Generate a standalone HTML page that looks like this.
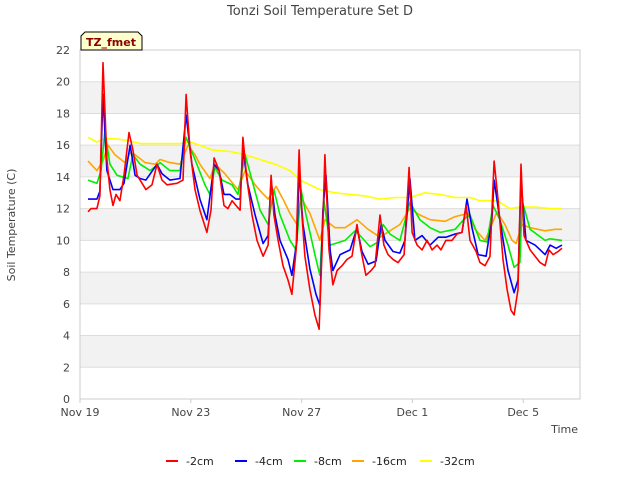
<!DOCTYPE html>
<html><head><meta charset="utf-8"><style>
body{margin:0;background:#fff;}
svg text{font-family:"DejaVu Sans","Liberation Sans",sans-serif;}
</style></head><body>
<svg id="chart" width="640" height="480" viewBox="0 0 640 480" xmlns="http://www.w3.org/2000/svg">
<text x="320" y="15" text-anchor="middle" font-size="13" fill="#444">Tonzi Soil Temperature Set D</text>
<g id="bands"></g><g id="grid"></g>
<rect x="80" y="50" width="500" height="349" fill="none" stroke="#ccc"/>
<g id="ticks"></g><g id="series"></g>
<text x="15" y="225" font-size="11" fill="#444" text-anchor="middle" transform="rotate(-90 15 225)">Soil Temperature (C)</text>
<text x="578" y="433" font-size="11" fill="#444" text-anchor="end">Time</text>
<g>
<path d="M81,50 L81,36 L85,32 L138,32 L142,36 L142,50 Z" fill="#ffffcc" stroke="#000"/>
<text x="111" y="46" font-size="11" font-weight="bold" fill="#8b0000" text-anchor="middle">TZ_fmet</text></g>
<g id="legend"></g>
</svg>
<script>
const yTicks=[0,2,4,6,8,10,12,14,16,18,20,22];
const xTickDays=[0,4,8,12,16];
const xTickLabels=["Nov 19","Nov 23","Nov 27","Dec 1","Dec 5"];
const seriesNames=["-2cm","-4cm","-8cm","-16cm","-32cm"];
const seriesColors=["#ff0000","#0000ff","#00ee00","#ffa500","#ffff00"];
const s2=[[0.29,11.8],[0.40,12.0],[0.61,12.0],[0.72,12.8],[0.83,21.2],[0.90,18.2],[0.97,15.1],[1.08,13.2],[1.19,12.2],[1.30,12.9],[1.44,12.5],[1.59,14.1],[1.77,16.8],[1.91,15.7],[2.06,14.1],[2.17,13.8],[2.38,13.2],[2.60,13.5],[2.78,14.8],[2.96,13.8],[3.14,13.5],[3.50,13.6],[3.72,13.8],[3.83,19.2],[3.97,15.7],[4.15,13.2],[4.33,11.9],[4.58,10.5],[4.73,11.9],[4.84,15.2],[5.02,14.4],[5.20,12.2],[5.34,12.0],[5.49,12.5],[5.63,12.2],[5.78,11.9],[5.88,16.5],[6.03,13.8],[6.21,11.6],[6.39,10.0],[6.61,9.0],[6.79,9.7],[6.90,14.1],[7.00,11.6],[7.15,10.0],[7.33,8.4],[7.51,7.5],[7.65,6.6],[7.80,9.4],[7.91,15.7],[8.01,11.6],[8.12,9.0],[8.30,6.9],[8.48,5.3],[8.63,4.4],[8.74,9.4],[8.84,15.4],[8.99,9.4],[9.13,7.2],[9.28,8.1],[9.46,8.4],[9.64,8.8],[9.82,9.0],[10.0,11.0],[10.14,9.4],[10.32,7.8],[10.51,8.1],[10.65,8.4],[10.83,11.6],[10.97,9.7],[11.12,9.1],[11.30,8.8],[11.48,8.6],[11.70,9.1],[11.88,14.6],[11.99,10.5],[12.17,9.7],[12.35,9.4],[12.53,10.0],[12.71,9.4],[12.89,9.7],[13.03,9.4],[13.21,10.0],[13.43,10.0],[13.61,10.4],[13.79,10.5],[13.94,12.2],[14.08,10.0],[14.30,9.3],[14.44,8.6],[14.62,8.4],[14.80,9.0],[14.95,15.0],[15.09,12.6],[15.27,8.8],[15.42,6.9],[15.56,5.6],[15.67,5.3],[15.81,6.9],[15.92,14.8],[16.03,10.3],[16.25,9.4],[16.43,9.0],[16.61,8.6],[16.79,8.4],[16.93,9.4],[17.08,9.1],[17.26,9.3],[17.40,9.5]];
const s4=[[0.29,12.6],[0.61,12.6],[0.72,13.1],[0.83,19.2],[0.97,14.4],[1.19,13.2],[1.44,13.2],[1.59,13.6],[1.81,16.0],[1.99,14.1],[2.17,13.9],[2.38,13.8],[2.78,14.8],[2.96,14.2],[3.25,13.8],[3.61,13.9],[3.83,17.9],[4.04,14.8],[4.33,12.6],[4.58,11.3],[4.84,14.8],[5.02,14.4],[5.20,12.9],[5.41,12.9],[5.63,12.6],[5.78,12.6],[5.88,15.7],[6.06,13.5],[6.32,11.6],[6.61,9.8],[6.79,10.3],[6.90,13.8],[7.04,11.6],[7.22,10.0],[7.51,8.8],[7.65,7.8],[7.83,10.0],[7.91,14.4],[8.05,11.0],[8.30,8.2],[8.52,6.6],[8.66,5.9],[8.77,11.9],[8.88,14.1],[9.03,9.4],[9.13,8.1],[9.39,9.1],[9.75,9.4],[10.0,10.8],[10.18,9.3],[10.40,8.5],[10.69,8.7],[10.87,11.0],[11.01,10.0],[11.30,9.3],[11.55,9.2],[11.73,10.0],[11.91,13.9],[12.09,10.0],[12.35,10.3],[12.64,9.7],[12.93,10.2],[13.21,10.2],[13.54,10.4],[13.79,10.5],[13.97,12.6],[14.15,10.8],[14.37,9.1],[14.66,9.0],[14.87,11.3],[14.95,13.8],[15.16,11.3],[15.45,8.1],[15.67,6.7],[15.81,7.5],[15.92,13.7],[16.10,10.0],[16.43,9.7],[16.79,9.1],[16.97,9.7],[17.19,9.5],[17.40,9.7]];
const s8=[[0.29,13.8],[0.61,13.6],[0.76,14.4],[0.90,16.9],[1.08,14.8],[1.34,14.1],[1.73,13.9],[1.91,15.4],[2.17,14.8],[2.53,14.4],[2.89,14.9],[3.25,14.4],[3.61,14.4],[3.83,16.5],[4.15,15.1],[4.51,13.5],[4.69,12.9],[4.87,14.6],[5.13,13.8],[5.49,13.5],[5.70,12.9],[5.96,15.4],[6.21,13.8],[6.50,11.9],[6.79,11.0],[7.00,13.2],[7.22,11.6],[7.58,10.0],[7.80,9.4],[7.98,13.2],[8.16,11.6],[8.48,9.1],[8.66,7.8],[8.81,12.5],[9.03,9.7],[9.57,10.0],[9.93,10.6],[10.11,10.3],[10.47,9.6],[10.76,9.9],[10.94,11.0],[11.19,10.4],[11.55,10.0],[11.91,12.4],[12.27,11.3],[12.64,10.8],[13.00,10.5],[13.54,10.7],[13.90,11.4],[14.08,11.6],[14.44,10.0],[14.69,9.9],[14.91,12.2],[15.16,11.3],[15.45,9.7],[15.67,8.3],[15.88,8.6],[15.96,12.5],[16.25,10.7],[16.79,10.0],[16.97,10.1],[17.40,10.0]];
const s16=[[0.29,15.0],[0.61,14.4],[0.83,15.0],[1.01,16.0],[1.26,15.4],[1.62,14.9],[1.81,15.5],[1.99,15.4],[2.35,14.9],[2.71,14.8],[2.89,15.1],[3.25,14.9],[3.61,14.8],[3.90,16.0],[4.15,15.4],[4.33,14.8],[4.69,13.9],[4.87,14.8],[5.23,14.2],[5.70,13.2],[5.96,14.4],[6.32,13.5],[6.57,13.0],[6.79,12.6],[7.08,13.4],[7.33,12.6],[7.58,11.7],[7.83,11.0],[7.98,12.7],[8.30,11.7],[8.66,10.0],[8.84,11.3],[9.21,10.8],[9.57,10.8],[10.0,11.3],[10.40,10.7],[10.83,10.2],[11.19,10.6],[11.55,11.0],[11.91,12.0],[12.27,11.6],[12.64,11.3],[13.18,11.2],[13.54,11.5],[14.01,11.7],[14.26,10.7],[14.62,10.0],[14.80,10.7],[15.05,11.8],[15.34,11.0],[15.60,10.0],[15.74,9.8],[15.96,11.0],[16.25,10.8],[16.79,10.6],[17.15,10.7],[17.40,10.7]];
const s32=[[0.29,16.5],[0.61,16.2],[0.90,16.4],[1.26,16.4],[1.73,16.3],[2.17,16.1],[2.71,16.1],[3.25,16.1],[3.61,16.1],[3.97,16.2],[4.33,16.0],[4.77,15.7],[5.42,15.6],[5.96,15.4],[6.50,15.1],[7.04,14.8],[7.58,14.4],[7.94,13.8],[8.30,13.5],[8.66,13.2],[9.21,13.0],[9.75,12.9],[10.29,12.8],[10.83,12.6],[11.37,12.7],[11.91,12.7],[12.45,13.0],[12.99,12.9],[13.54,12.7],[14.08,12.7],[14.44,12.5],[14.98,12.5],[15.16,12.4],[15.52,12.0],[15.88,12.1],[16.43,12.1],[16.97,12.0],[17.40,12.0]];
const allSeries=[s2,s4,s8,s16,s32];
const NS="http://www.w3.org/2000/svg";
const X0=80,X1=580,Y0=399,Y1=50,DMAX=18.05,VMAX=22;
function xs(d){return X0+(X1-X0)*d/DMAX;}
function ys(v){return Y0-(Y0-Y1)*v/VMAX;}
function mk(t,a,p){const e=document.createElementNS(NS,t);for(const k in a)e.setAttribute(k,a[k]);p.appendChild(e);return e;}
const bands=document.getElementById('bands'),grid=document.getElementById('grid'),ticks=document.getElementById('ticks');
for(let v=2;v<22;v+=4){const r=mk('rect',{x:X0,y:ys(v+2),width:X1-X0,height:ys(v)-ys(v+2),fill:'#f2f2f2'},bands);

}
yTicks.forEach(v=>{const l=mk('line',{x1:X0,x2:X1,y1:ys(v),y2:ys(v),stroke:'#dddddd'},grid);


const t=mk('text',{x:X0-10,y:ys(v)+4,'font-size':11,fill:'#444','text-anchor':'end'},ticks);t.textContent=v;

});
xTickDays.forEach((d,i)=>{mk('line',{x1:xs(d),x2:xs(d),y1:Y0,y2:Y0+4,stroke:'#ccc'},ticks);
const t=mk('text',{x:xs(d),y:Y0+17,'font-size':11,fill:'#444','text-anchor':'middle'},ticks);t.textContent=xTickLabels[i];

});
const sg=document.getElementById('series');
allSeries.slice().reverse().forEach((s,ri)=>{const i=allSeries.length-1-ri;
const p=mk('polyline',{points:s.map(q=>xs(q[0]).toFixed(1)+','+ys(q[1]).toFixed(1)).join(' '),fill:'none',stroke:seriesColors[i],'stroke-width':1.6,'stroke-linejoin':'round'},sg);

});
const lg=document.getElementById('legend');const lx=[166,235,294,352,420];
seriesNames.forEach((n,i)=>{const g=mk('g',{},lg);


mk('line',{x1:lx[i],x2:lx[i]+12,y1:461,y2:461,stroke:seriesColors[i],'stroke-width':2},g);
const t=mk('text',{x:lx[i]+20,y:465,'font-size':11,fill:'#222'},g);t.textContent=n;});
</script>
</body></html>
